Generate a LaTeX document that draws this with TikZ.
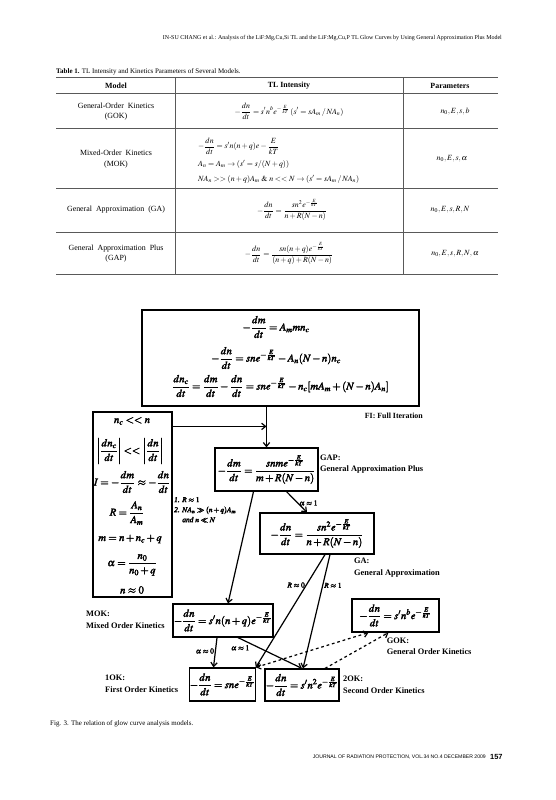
\documentclass[tikz,border=0pt]{standalone}
\usepackage{amsmath}
\usepackage{mathptmx}
\usepackage[no-math]{fontspec}
\setmainfont{Liberation Serif}
\setsansfont{Liberation Sans}
\usetikzlibrary{positioning,arrows.meta,calc}
\newcommand\px{0.378mm}
\newcommand\thickon{\special{pdf:literal direct 2 Tr 0.3 w}}
\newcommand\thickoff{\special{pdf:literal direct 0 Tr 0.4 w}}
\begin{document}
\begin{tikzpicture}[x=\px,y=-\px,
  eqbox/.style 2 args={draw,line width=1.3pt,minimum width=#1*\px,minimum height=#2*\px,inner sep=0pt},
  eqn/.style={font=\fontsize{11.5}{13}\selectfont,inner sep=0pt,
    execute at begin node=\thickon,execute at end node=\thickoff},
  flow/.style={-{Straight Barb[length=1.5mm,width=2.4mm]},line width=1.3pt},
  dflow/.style={flow,dashed},
  cond/.style={font=\fontsize{8}{9}\selectfont\itshape,inner sep=1pt,
    execute at begin node=\thickon,execute at end node=\thickoff},
  mlabel/.style={font=\bfseries\fontsize{9}{12.5}\selectfont,align=left,anchor=west,inner sep=0pt},
  cell/.style={font=\fontsize{8.5}{11}\selectfont,align=center,inner sep=0pt},
  rule/.style={black!65,line width=0.7pt}]
\useasboundingbox (0,0) rectangle (555,800);
% running head
\node[font=\fontsize{6.4}{7}\selectfont,anchor=east,inner sep=0pt] (head) at (502,38)
  {IN-SU CHANG et al.: Analysis of the LiF:Mg,Cu,Si TL and the LiF:Mg,Cu,P TL Glow Curves by Using General Approximation Plus Model};
% table
\node[font=\fontsize{7.5}{9}\selectfont,anchor=west,inner sep=0pt] (tcap) at (56,72)
  {\textbf{Table 1.} TL Intensity and Kinetics Parameters of Several Models.};
\draw[rule] (56,77) -- (498,77);
\draw[rule] (56,93.3) -- (498,93.3);
\draw[rule] (56,128.3) -- (498,128.3);
\draw[rule] (56,188.3) -- (498,188.3);
\draw[rule] (56,232.3) -- (498,232.3);
\draw[rule] (56,274.3) -- (498,274.3);
\draw[rule] (175.7,77) -- (175.7,274.3);
\draw[rule] (403.3,77) -- (403.3,274.3);
\node[cell,font=\bfseries\fontsize{8.5}{11}\selectfont] (hmod) at (116,86) {Model};
\node[cell,font=\bfseries\fontsize{8.5}{11}\selectfont] (hint) at (289,86) {TL Intensity};
\node[cell,font=\bfseries\fontsize{8.5}{11}\selectfont] (hpar) at (450,86) {Parameters};
% GOK row
\node[cell] (mgok) at (116,111.5) {General-Order\ \ Kinetics\\(GOK)};
\node[cell] (igok) at (289,111.5) {$\displaystyle -\frac{dn}{dt}=s'n^{b}e^{-\frac{E}{kT}}\,(s'=sA_m\,/\,NA_n)$};
\node[cell] (pgok) at (455,111.5) {$n_0,E,s,b$};
% MOK row
\node[cell] (mmok) at (116,159) {Mixed-Order\ \ Kinetics\\(MOK)};
\node[cell,anchor=west] (imoka) at (198,146) {$\displaystyle -\frac{dn}{dt}=s'n(n+q)e-\frac{E}{kT}$};
\node[cell,anchor=west] (imokb) at (198,164.3) {$A_n=A_m\rightarrow(s'=s/(N+q))$};
\node[cell,anchor=west] (imokc) at (198,179) {$NA_n>>(n+q)A_m\;\&\;n<<N\rightarrow(s'=sA_m\,/\,NA_n)$};
\node[cell] (pmok) at (452,159) {$n_0,E,s,\alpha$};
% GA row
\node[cell] (mga) at (116,210) {General\ \ Approximation\ \ (GA)};
\node[cell] (iga) at (292,210) {$\displaystyle -\frac{dn}{dt}=\frac{sn^2e^{-\frac{E}{kT}}}{n+R(N-n)}$};
\node[cell] (pga) at (450,210) {$n_0,E,s,R,N$};
% GAP row
\node[cell] (mgap) at (116,253.5) {General\ \ Approximation\ \ Plus\\(GAP)};
\node[cell] (igap) at (289,253.5) {$\displaystyle -\frac{dn}{dt}=\frac{sn(n+q)e^{-\frac{E}{kT}}}{(n+q)+R(N-n)}$};
\node[cell] (pgap) at (455,253.5) {$n_0,E,s,R,N,\alpha$};
% figure: full iteration box
\node[eqbox={277}{96}] (fi) at (280.5,358) {};
\node[eqn] (fia) at (276,327) {$\displaystyle -\frac{dm}{dt}=A_m mn_c$};
\node[eqn] (fib) at (276,358) {$\displaystyle -\frac{dn}{dt}=sne^{-\frac{E}{kT}}-A_n(N-n)n_c$};
\node[eqn] (fic) at (280.5,386) {$\displaystyle \frac{dn_c}{dt}=\frac{dm}{dt}-\frac{dn}{dt}=sne^{-\frac{E}{kT}}-n_c[mA_m+(N-n)A_n]$};
\node[mlabel,anchor=east,font=\bfseries\fontsize{8.5}{10}\selectfont] (filbl) at (423,416) {FI: Full Iteration};
% figure: approximation box
\node[eqbox={79}{185}] (cnd) at (132.5,504.5) {};
\node[eqn] (cnda) at (132,421) {$n_c<<n$};
\node[eqn] (cndb) at (130,451) {$\displaystyle \left|\frac{dn_c}{dt}\right|<<\left|\frac{dn}{dt}\right|$};
\node[eqn] (cndc) at (132,482) {$\displaystyle I=-\frac{dm}{dt}\approx-\frac{dn}{dt}$};
\node[eqn] (cndd) at (127,513) {$\displaystyle R=\frac{A_n}{A_m}$};
\node[eqn] (cnde) at (130,539) {$m=n+n_c+q$};
\node[eqn] (cndf) at (132,565) {$\displaystyle \alpha=\frac{n_0}{n_0+q}$};
\node[eqn] (cndg) at (132,590) {$n\approx0$};
% model boxes
\node[eqbox={103}{43},eqn] (gap) at (266.5,469.5) {$\displaystyle -\frac{dm}{dt}=\frac{snme^{-\frac{E}{kT}}}{m+R(N-n)}$};
\node[mlabel] (gaplbl) at (320,464) {GAP:\\General Approximation Plus};
\node[eqbox={114}{41},eqn] (ga) at (317,533.5) {$\displaystyle -\frac{dn}{dt}=\frac{sn^2e^{-\frac{E}{kT}}}{n+R(N-n)}$};
\node[mlabel] (galbl) at (354,567.5) {GA:\\General Approximation};
\node[eqbox={100}{33},eqn] (mok) at (223,620.5) {$\displaystyle -\frac{dn}{dt}=s'n(n+q)e^{-\frac{E}{kT}}$};
\node[mlabel] (moklbl) at (86,619.7) {MOK:\\Mixed Order Kinetics};
\node[eqbox={87}{33},eqn] (gok) at (395.5,615.5) {$\displaystyle -\frac{dn}{dt}=s'n^{b}e^{-\frac{E}{kT}}$};
\node[mlabel] (goklbl) at (386.7,646.3) {GOK:\\General Order Kinetics};
\node[eqbox={65}{33},eqn] (fok) at (222.5,684.5) {$\displaystyle -\frac{dn}{dt}=sne^{-\frac{E}{kT}}$};
\node[mlabel] (foklbl) at (105,684) {1OK:\\First Order Kinetics};
\node[eqbox={74}{32},eqn] (sok) at (302,685) {$\displaystyle -\frac{dn}{dt}=s'n^2e^{-\frac{E}{kT}}$};
\node[mlabel] (soklbl) at (343,684.7) {2OK:\\Second Order Kinetics};
% connectors
\coordinate (cj) at ($(cnd.north east)+(0,15)$);
\draw[flow] (fi.south -| gap.north) -- (gap.north);
\draw[flow] (cj) -- (cj -| gap.north);
\draw[flow] ($(gap.south)+(20,0)$) -- node[cond,right,pos=0.55] {$\alpha\approx1$} ($(ga.north)+(-10,0)$);
\draw[flow] ($(gap.south)+(-13,0)$) -- ($(mok.north)+(5,0)$);
\node[cond,align=left,anchor=north west,font=\fontsize{8}{10.8}\selectfont\itshape] (cndtxt) at (173,496)
  {1. $R\approx1$\\2. $NA_n\gg(n+q)A_m$\\\hspace*{1.1em}and $n\ll N$};
\draw[flow] ($(ga.south)+(8,0)$) -- node[cond,pos=0.27,left] {$R\approx0$} (fok.north east);
\draw[flow] ($(ga.south)+(13,0)$) -- node[cond,pos=0.27,right] {$R\approx1$} ($(sok.north)+(1,0)$);
\draw[flow] ($(mok.south)+(-6,0)$) -- node[cond,pos=0.45,left] {$\alpha\approx0$} ($(fok.north)+(-9,0)$);
\draw[flow] ($(mok.south)+(15,0)$) -- node[cond,pos=0.2,below left] {$\alpha\approx1$} ($(sok.north)+(0,0)$);
\draw[dflow,{Straight Barb[length=1.5mm,width=2.4mm]}-{Straight Barb[length=1.5mm,width=2.4mm]}] (fok.north east) -- ($(gok.south)+(-27,0)$);
\draw[dflow] ($(sok.north)+(23,0)$) -- ($(gok.south)+(-7,0)$);
% caption and foot
\node[font=\fontsize{7.5}{9}\selectfont,anchor=west,inner sep=0pt] (fcap) at (50,724) {Fig. 3. The relation of glow curve analysis models.};
\node[font=\sffamily\fontsize{5.5}{7}\selectfont,anchor=east,inner sep=0pt] (foot) at (486,757) {JOURNAL OF RADIATION PROTECTION, VOL.34 NO.4 DECEMBER 2009};
\node[font=\sffamily\bfseries\fontsize{8}{9}\selectfont,anchor=west,inner sep=0pt] (pnum) at (490,757) {157};
\end{tikzpicture}
\end{document}
